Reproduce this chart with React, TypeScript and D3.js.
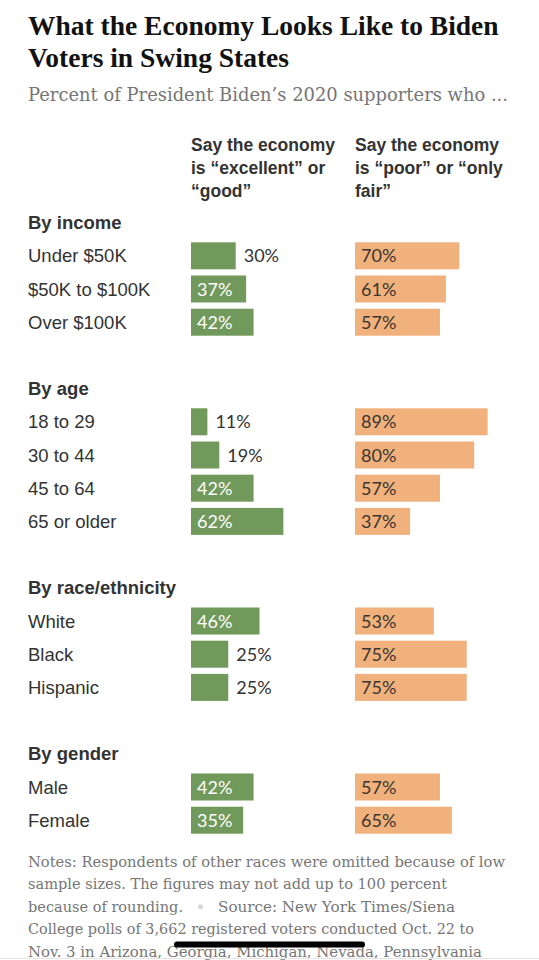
import React from "react";
import * as d3 from "d3";

const titleLines = ["What the Economy Looks Like to Biden", "Voters in Swing States"];
const subtitle = "Percent of President Biden\u2019s 2020 supporters who ...";
const headerGood = ["Say the economy", "is \u201cexcellent\u201d or", "\u201cgood\u201d"];
const headerPoor = ["Say the economy", "is \u201cpoor\u201d or \u201conly", "fair\u201d"];

const groupNames = ["By income", "By age", "By race/ethnicity", "By gender"];
const categories = [
  "Under $50K", "$50K to $100K", "Over $100K",
  "18 to 29", "30 to 44", "45 to 64", "65 or older",
  "White", "Black", "Hispanic",
  "Male", "Female",
];
const categoryGroup = [0, 0, 0, 1, 1, 1, 1, 2, 2, 2, 3, 3];
const goodValues = [30, 37, 42, 11, 19, 42, 62, 46, 25, 25, 42, 35];
const poorValues = [70, 61, 57, 89, 80, 57, 37, 53, 75, 75, 57, 65];

const notesLines = [
  "Notes: Respondents of other races were omitted because of low",
  "sample sizes. The figures may not add up to 100 percent",
  "because of rounding.",
  "College polls of 3,662 registered voters conducted Oct. 22 to",
  "Nov. 3 in Arizona, Georgia, Michigan, Nevada, Pennsylvania",
];
const notesLineLengths = [477, 419, 155, 446, 454];
const sourceText = "Source: New York Times/Siena";

const GREEN = "#71995b";
const ORANGE = "#f1b17c";
const SANS = "'Liberation Sans', Arial, sans-serif";
const NUM = "Lato, 'Liberation Sans', sans-serif";
const SERIF = "'Liberation Serif', 'Times New Roman', serif";
const SERIF2 = "'DejaVu Serif', Georgia, serif";

export default function App() {
  const W = 539, H = 960;
  const rows: { type: "group" | "cat"; idx: number; slot: number }[] = [];
  let slot = 0;
  groupNames.forEach((g, gi) => {
    if (gi > 0) slot += 1;
    rows.push({ type: "group", idx: gi, slot });
    slot += 1;
    categories.forEach((c, ci) => {
      if (categoryGroup[ci] === gi) {
        rows.push({ type: "cat", idx: ci, slot });
        slot += 1;
      }
    });
  });
  const nSlots = slot;
  const y = d3.scaleLinear().domain([0, nSlots]).range([209.1, 209.1 + nSlots * 33.2]);
  const bandH = 27;
  const x = d3.scaleLinear().domain([0, 100]).range([0, 149]);
  const goodX = 191;
  const poorX = 355;
  const threshold = 33;

  return (
    <svg width={W} height={H} style={{ position: "absolute", left: 0, top: 0, background: "#fff" }}>
      {titleLines.map((t, i) => (
        <text key={i} x={28} y={35 + i * 32} fontFamily={SERIF} fontWeight="bold" fontSize={27.5} fill="#121212">
          {t}
        </text>
      ))}
      <text x={28} y={101} fontFamily={SERIF2} fontSize={18} fill="#767676" textLength={480} lengthAdjust="spacingAndGlyphs">
        {subtitle}
      </text>

      {headerGood.map((t, i) => (
        <text key={"hg" + i} x={goodX} y={151 + i * 23} fontFamily={SANS} fontWeight="bold" fontSize={17.5} fill="#333">{t}</text>
      ))}
      {headerPoor.map((t, i) => (
        <text key={"hp" + i} x={poorX} y={151 + i * 23} fontFamily={SANS} fontWeight="bold" fontSize={17.5} fill="#333">{t}</text>
      ))}

      {rows.map((r, i) => {
        const cy = y(r.slot) + bandH / 2;
        if (r.type === "group") {
          return (
            <text key={"g" + i} x={28} y={cy + 6.5} fontFamily={SANS} fontWeight="bold" fontSize={18.5} fill="#333">
              {groupNames[r.idx]}
            </text>
          );
        }
        const gv = goodValues[r.idx];
        const pv = poorValues[r.idx];
        const gInside = gv >= threshold;
        const pInside = pv >= threshold;
        return (
          <g key={"r" + i}>
            <text x={28} y={cy + 6.5} fontFamily={SANS} fontSize={18.5} fill="#333">{categories[r.idx]}</text>
            <rect x={goodX} y={y(r.slot)} width={x(gv)} height={bandH} fill={GREEN} />
            <text
              x={gInside ? goodX + 6 : goodX + x(gv) + 8}
              y={cy + 6.5}
              fontFamily={NUM}
              fontSize={18}
              fill={gInside ? "#fff" : "#333"}
            >
              {gv}%
            </text>
            <rect x={poorX} y={y(r.slot)} width={x(pv)} height={bandH} fill={ORANGE} />
            <text
              x={pInside ? poorX + 6 : poorX + x(pv) + 8}
              y={cy + 6.5}
              fontFamily={NUM}
              fontSize={18}
              fill="#3a3530"
            >
              {pv}%
            </text>
          </g>
        );
      })}

      {notesLines.map((t, i) => (
        <text
          key={"n" + i}
          x={28}
          y={867 + i * 22.4}
          fontFamily={SERIF2}
          fontSize={15.6}
          fill="#767676"
          textLength={notesLineLengths[i]}
          lengthAdjust="spacingAndGlyphs"
        >
          {t}
        </text>
      ))}
      <circle cx={200.5} cy={867 + 2 * 22.4 - 5} r={2.5} fill="#d6d6d6" />
      <text x={218} y={867 + 2 * 22.4} fontFamily={SERIF2} fontSize={15.6} fill="#767676" textLength={237} lengthAdjust="spacingAndGlyphs">
        {sourceText}
      </text>
      <rect x={174} y={941.5} width={191} height={6} rx={3} fill="#000" />
      <line x1={0} x2={W} y1={958.5} y2={958.5} stroke="#e4e4e4" strokeWidth={1} />
    </svg>
  );
}
